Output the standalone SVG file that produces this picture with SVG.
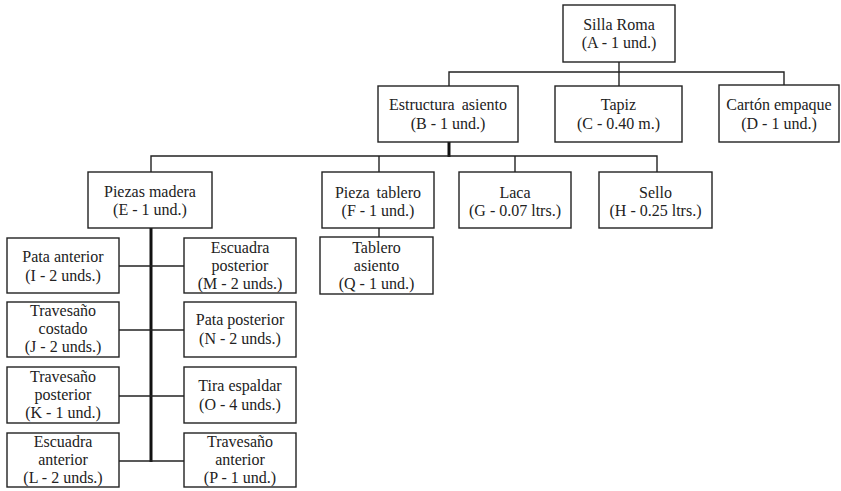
<svg xmlns="http://www.w3.org/2000/svg" width="841" height="491" viewBox="0 0 841 491">
  <style>
    .box { fill: #ffffff; stroke: #222222; stroke-width: 1.4; }
    .lbl { font-family: 'Liberation Serif', 'Times New Roman', 'DejaVu Serif', serif; font-size: 16px; fill: #222222; text-anchor: middle; }
    .wire { stroke: #222222; stroke-width: 1.4; fill: none; }
    .trunk { stroke: #111111; stroke-width: 3; fill: none; }
  </style>
  <rect width="841" height="491" fill="#ffffff"/>

  <!-- connectors -->
  <g id="connectors">
    <path class="wire" d="M619 62V86"/>
    <path class="wire" d="M449 86V72H784V85"/>
    <path class="trunk" d="M449 142V157"/>
    <path class="wire" d="M151 172V156H657V172"/>
    <path class="wire" d="M379 156V172"/>
    <path class="wire" d="M515 156V172"/>
    <path class="wire" d="M379 228V237"/>
    <path class="trunk" d="M151 228V462"/>
    <path class="wire" d="M119 266H184"/>
    <path class="wire" d="M119 330H184"/>
    <path class="wire" d="M119 396H184"/>
    <path class="wire" d="M119 461H184"/>
  </g>

  <!-- level 0 -->
  <g id="A">
    <rect class="box" x="563" y="5" width="112" height="57"/>
    <text class="lbl" x="619" y="30">Silla Roma</text>
    <text class="lbl" x="619" y="48">(A - 1 und.)</text>
  </g>

  <!-- level 1 -->
  <g id="B">
    <rect class="box" x="378" y="86" width="140" height="56"/>
    <text class="lbl" x="448" y="110" word-spacing="3">Estructura asiento</text>
    <text class="lbl" x="448" y="129">(B - 1 und.)</text>
  </g>
  <g id="C">
    <rect class="box" x="555" y="86" width="127" height="56"/>
    <text class="lbl" x="618.5" y="110">Tapiz</text>
    <text class="lbl" x="618.5" y="129">(C - 0.40 m.)</text>
  </g>
  <g id="D">
    <rect class="box" x="719" y="85" width="120" height="57"/>
    <text class="lbl" x="779" y="110">Cartón empaque</text>
    <text class="lbl" x="779" y="129">(D - 1 und.)</text>
  </g>

  <!-- level 2 -->
  <g id="E">
    <rect class="box" x="88" y="172" width="124" height="56"/>
    <text class="lbl" x="150" y="197">Piezas madera</text>
    <text class="lbl" x="150" y="215">(E - 1 und.)</text>
  </g>
  <g id="F">
    <rect class="box" x="322" y="172" width="112" height="56"/>
    <text class="lbl" x="378" y="198" word-spacing="3">Pieza tablero</text>
    <text class="lbl" x="378" y="216">(F - 1 und.)</text>
  </g>
  <g id="G">
    <rect class="box" x="459" y="172" width="112" height="56"/>
    <text class="lbl" x="515" y="198">Laca</text>
    <text class="lbl" x="515" y="216">(G - 0.07 ltrs.)</text>
  </g>
  <g id="H">
    <rect class="box" x="599" y="172" width="113" height="56"/>
    <text class="lbl" x="655.5" y="198">Sello</text>
    <text class="lbl" x="655.5" y="216">(H - 0.25 ltrs.)</text>
  </g>

  <!-- level 3 -->
  <g id="Q">
    <rect class="box" x="320" y="237" width="113" height="57"/>
    <text class="lbl" x="376.5" y="253">Tablero</text>
    <text class="lbl" x="376.5" y="271">asiento</text>
    <text class="lbl" x="376.5" y="289">(Q - 1 und.)</text>
  </g>
  <g id="I">
    <rect class="box" x="7" y="238" width="112" height="55"/>
    <text class="lbl" x="63" y="262">Pata anterior</text>
    <text class="lbl" x="63" y="281">(I - 2 unds.)</text>
  </g>
  <g id="M">
    <rect class="box" x="184" y="238" width="112" height="55"/>
    <text class="lbl" x="240" y="253">Escuadra</text>
    <text class="lbl" x="240" y="271">posterior</text>
    <text class="lbl" x="240" y="289">(M - 2 unds.)</text>
  </g>
  <g id="J">
    <rect class="box" x="7" y="302" width="112" height="55"/>
    <text class="lbl" x="63" y="316">Travesaño</text>
    <text class="lbl" x="63" y="334">costado</text>
    <text class="lbl" x="63" y="352">(J - 2 unds.)</text>
  </g>
  <g id="N">
    <rect class="box" x="184" y="302" width="112" height="55"/>
    <text class="lbl" x="240" y="325">Pata posterior</text>
    <text class="lbl" x="240" y="344">(N - 2 unds.)</text>
  </g>
  <g id="K">
    <rect class="box" x="7" y="367" width="112" height="56"/>
    <text class="lbl" x="63" y="382">Travesaño</text>
    <text class="lbl" x="63" y="400">posterior</text>
    <text class="lbl" x="63" y="418">(K - 1 und.)</text>
  </g>
  <g id="O">
    <rect class="box" x="184" y="367" width="112" height="56"/>
    <text class="lbl" x="240" y="391">Tira espaldar</text>
    <text class="lbl" x="240" y="410">(O - 4 unds.)</text>
  </g>
  <g id="L">
    <rect class="box" x="7" y="433" width="112" height="54"/>
    <text class="lbl" x="63" y="447">Escuadra</text>
    <text class="lbl" x="63" y="465">anterior</text>
    <text class="lbl" x="63" y="483">(L - 2 unds.)</text>
  </g>
  <g id="P">
    <rect class="box" x="184" y="433" width="112" height="54"/>
    <text class="lbl" x="240" y="447">Travesaño</text>
    <text class="lbl" x="240" y="465">anterior</text>
    <text class="lbl" x="240" y="483">(P - 1 und.)</text>
  </g>
</svg>
